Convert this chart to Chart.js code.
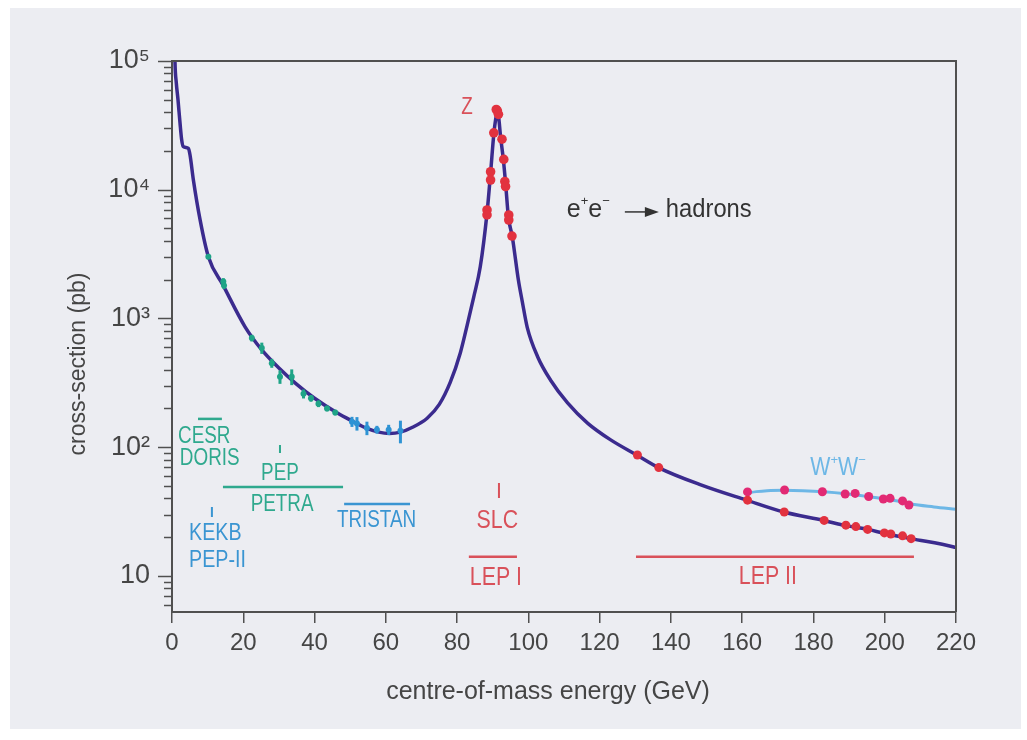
<!DOCTYPE html>
<html>
<head>
<meta charset="utf-8">
<script src="https://cdn.jsdelivr.net/npm/chart.js@4.4.0/dist/chart.umd.min.js"></script>
<style>
html,body{margin:0;padding:0;background:#fff;}
canvas{display:block;}
</style>
</head>
<body>
<canvas id="c" width="1027" height="740"></canvas>
<script>
// ---------- data ----------
const xTicks = [0, 20, 40, 60, 80, 100, 120, 140, 160, 180, 200, 220];
const yTickLabels = {10: '10', 100: '10²', 1000: '10³', 10000: '10⁴', 100000: '10⁵'};
const xTitle = 'centre-of-mass energy (GeV)';
const yTitle = 'cross-section (pb)';

// e+e- -> hadrons cross-section curve (GeV, pb)
const hadronE = [0.75, 0.84, 1.2, 1.69, 2.25, 2.72, 3.18, 4.6, 5.06, 6.0, 7.9, 10.2, 14.4, 20.5, 25.2, 30.3, 34.6, 40, 46.3, 50.5, 54.7, 58, 61, 64.1, 67.5, 71.6, 75, 78.1, 80.9, 82.8, 84.7, 86.5, 88.4, 89.4, 90.3, 90.8, 91.2, 91.6, 92.2, 93.0, 93.6, 94.4, 95.5, 97.2, 98.3, 99.7, 102.6, 106.2, 111.0, 116.6, 123.1, 130.4, 136.5, 148.4, 161.0, 171.7, 182.9, 189.1, 195.3, 199.7, 207.4, 219.4, 220];
const hadronS = [140000, 98000, 68000, 49800, 33000, 24300, 21600, 20950, 18600, 11900, 5800, 3020, 1800, 862, 571, 405, 315, 240, 185, 160, 140, 131, 128, 131, 143, 168, 215, 320, 540, 880, 1480, 2520, 6600, 13500, 27000, 35000, 39000, 37500, 25800, 17000, 11300, 6140, 4300, 1990, 1350, 850, 505, 333, 221, 154, 114, 87, 69.5, 51, 39, 31.4, 27, 24.6, 23, 21.5, 19.5, 16.8, 16.6];

// W+W- curve
const wwCurveE = [161.3, 164, 167, 171.7, 177, 182.9, 189.1, 195.3, 199.7, 204, 207.4, 213.8, 220];
const wwCurveS = [44, 45.2, 46, 46.3, 46, 45.1, 43.5, 41.4, 39.8, 38, 36.2, 34.4, 33];

// Z-pole measurements (red)
const zE = [88.4, 88.4, 89.4, 89.4, 90.3, 91.0, 91.3, 91.6, 92.6, 93.1, 93.4, 93.6, 94.5, 94.5, 95.4];
const zS = [6970, 6370, 13800, 11900, 27700, 42000, 41000, 38500, 24700, 17200, 11600, 10600, 6370, 5820, 4370];

// LEP II hadronic measurements (red)
const lep2E = [130.6, 136.6, 161.5, 171.8, 183.0, 189.1, 191.9, 195.2, 199.9, 201.7, 205.0, 207.4];
const lep2S = [87, 69.5, 38.8, 31.4, 27.0, 24.8, 24.2, 23.0, 21.6, 21.2, 20.5, 19.5];

// W+W- measurements (magenta)
const wwE = [161.5, 171.9, 182.5, 188.9, 191.7, 195.5, 199.6, 201.5, 205.0, 206.8];
const wwS = [45, 46.5, 45.1, 43.3, 43.8, 41.4, 39.6, 40.1, 38.3, 35.6];

// PEP / PETRA / CESR / DORIS measurements (green), relative errors
const greenE = [10.2, 14.4, 14.6, 22.4, 25.2, 28.0, 30.3, 33.6, 36.9, 39.0, 41.1, 43.5, 45.8];
const greenS = [3020, 1940, 1800, 705, 590, 450, 353, 353, 260, 240, 218, 200, 186];
const greenErr = [0.04, 0.06, 0.06, 0.06, 0.10, 0.08, 0.12, 0.14, 0.08, 0.06, 0.06, 0.05, 0.05];

// TRISTAN measurements (blue), relative errors
const blueE = [50.5, 51.9, 54.7, 57.5, 60.8, 64.1];
const blueS = [158, 153, 141, 137, 137, 134];
const blueErr = [0.09, 0.12, 0.12, 0.07, 0.09, 0.20];

// accelerator energy ranges (GeV) and the level they are drawn at (pb)
const cesrRange = [7.3, 14.0], cesrLevel = 166;
const petraRange = [14.3, 48.0], petraLevel = 49;
const tristanRange = [48.3, 66.8], tristanLevel = 36.2;
const lep1Range = [83.3, 96.8], lep1Level = 14.1;
const lep2Range = [130.2, 208.2], lep2Level = 14.1;
const pepTickE = 30.3, pepTickS = [104, 90];
const kekbTickE = 11.2, kekbTickS = [34.4, 28.7];
const slcTickE = 91.75, slcTickS = [52.7, 40.4];

// ---------- styling ----------
const REG = "'Liberation Sans', Arial, sans-serif";
const AXIS = '#505050';
const TEXT = '#454545';
const NAVY = '#3b2b8e';
const RED = '#e2323f';
const MAGENTA = '#e22a74';
const GREEN = '#1fa487';
const BLUE = '#2e93d4';
const LIGHTBLUE = '#6db7e6';
const LABEL_GREEN = '#2fa98e';
const LABEL_BLUE = '#3a95d2';
const LABEL_RED = '#d9515a';
const NARROW = 0.82;

const pts = (xs, ys) => xs.map((x, i) => ({x: x, y: ys[i]}));
const seg = (r, lvl) => [{x: r[0], y: lvl}, {x: r[1], y: lvl}];
const vseg = (e, s) => [{x: e, y: s[0]}, {x: e, y: s[1]}];

const annotations = [
  {text: 'Z', E: 82.8, S: 43100, color: LABEL_RED, size: 23, align: 'center'},
  {text: 'CESR', E: 1.7, S: 120, color: LABEL_GREEN, size: 23, align: 'left'},
  {text: 'DORIS', E: 2.2, S: 81, color: LABEL_GREEN, size: 23, align: 'left'},
  {text: 'PEP', E: 30.3, S: 62, color: LABEL_GREEN, size: 23, align: 'center'},
  {text: 'PETRA', E: 30.9, S: 35.6, color: LABEL_GREEN, size: 23, align: 'center'},
  {text: 'TRISTAN', E: 57.4, S: 26.7, color: LABEL_BLUE, size: 23, align: 'center'},
  {text: 'KEKB', E: 4.8, S: 21.6, color: LABEL_BLUE, size: 24, align: 'left'},
  {text: 'PEP-II', E: 4.8, S: 13.3, color: LABEL_BLUE, size: 24, align: 'left'},
  {text: 'SLC', E: 91.3, S: 26.7, color: LABEL_RED, size: 26, align: 'center'},
  {text: 'LEP I', E: 90.9, S: 9.6, color: LABEL_RED, size: 26, align: 'center'},
  {text: 'LEP II', E: 167.2, S: 9.8, color: LABEL_RED, size: 26, align: 'center'}
];

function drawParts(ctx, parts, x, y, align) {
  // parts: [text, font, dy, horizontal scale]
  let w = 0;
  parts.forEach(p => { ctx.font = p[1]; w += ctx.measureText(p[0]).width * p[3]; });
  let cx = align === 'center' ? x - w / 2 : x;
  ctx.textAlign = 'left';
  parts.forEach(p => {
    ctx.font = p[1];
    ctx.save();
    ctx.translate(cx, y + p[2]);
    ctx.scale(p[3], 1);
    ctx.fillText(p[0], 0, 0);
    ctx.restore();
    cx += ctx.measureText(p[0]).width * p[3];
  });
  return cx;
}

const deco = {
  id: 'deco',
  beforeDraw(chart) {
    const ctx = chart.ctx;
    ctx.save();
    ctx.fillStyle = '#ffffff';
    ctx.fillRect(0, 0, chart.width, chart.height);
    ctx.fillStyle = '#ecedf2';
    ctx.fillRect(10, 8, 1011, 721);
    ctx.restore();
  },
  afterDatasetsDraw(chart) {
    const ctx = chart.ctx;
    const xs = chart.scales.x, ys = chart.scales.y;
    ctx.save();
    ctx.lineCap = 'butt';
    const bars = (E, S, R, color) => {
      ctx.strokeStyle = color;
      ctx.lineWidth = 3;
      E.forEach((e, i) => {
        const px = xs.getPixelForValue(e);
        ctx.beginPath();
        ctx.moveTo(px, ys.getPixelForValue(S[i] * (1 + R[i])));
        ctx.lineTo(px, ys.getPixelForValue(S[i] * (1 - R[i])));
        ctx.stroke();
      });
    };
    bars(greenE, greenS, greenErr, GREEN);
    bars(blueE, blueS, blueErr, BLUE);
    ctx.restore();
  },
  afterDraw(chart) {
    const ctx = chart.ctx;
    const xs = chart.scales.x, ys = chart.scales.y;
    const a = chart.chartArea;
    ctx.save();
    // top and right frame
    ctx.strokeStyle = AXIS;
    ctx.lineWidth = 2;
    ctx.beginPath();
    ctx.moveTo(a.left, a.top);
    ctx.lineTo(a.right, a.top);
    ctx.lineTo(a.right, a.bottom);
    ctx.stroke();
    // log ticks on y axis
    ctx.lineWidth = 1.5;
    for (let d = 0; d <= 5; d++) {
      for (let m = 1; m <= 9; m++) {
        const v = m * Math.pow(10, d);
        if (v < ys.min || v > ys.max) continue;
        const py = Math.round(ys.getPixelForValue(v)) + 0.5;
        const len = m === 1 ? 14 : 8;
        ctx.beginPath();
        ctx.moveTo(a.left - len, py);
        ctx.lineTo(a.left, py);
        ctx.stroke();
      }
    }
    // axis titles
    ctx.fillStyle = TEXT;
    ctx.textBaseline = 'middle';
    ctx.textAlign = 'center';
    ctx.font = '25px ' + REG;
    ctx.fillText(xTitle, 548, 692);
    ctx.save();
    ctx.translate(79, 364);
    ctx.rotate(-Math.PI / 2);
    ctx.font = '23px ' + REG;
    ctx.fillText(yTitle, 0, 0);
    ctx.restore();
    // annotation labels (condensed)
    annotations.forEach(t => {
      ctx.fillStyle = t.color;
      ctx.font = t.size + 'px ' + REG;
      ctx.textAlign = t.align;
      ctx.save();
      ctx.translate(xs.getPixelForValue(t.E), ys.getPixelForValue(t.S));
      ctx.scale(NARROW, 1);
      ctx.fillText(t.text, 0, 0);
      ctx.restore();
    });
    // W+W- label
    ctx.fillStyle = LIGHTBLUE;
    drawParts(ctx, [['W', '26px ' + REG, 0, NARROW], ['+', '13px ' + REG, -8, 1], ['W', '26px ' + REG, 0, NARROW], ['\u2212', '13px ' + REG, -8, 1]],
      xs.getPixelForValue(186.9), ys.getPixelForValue(69), 'center');
    // e+e- -> hadrons
    ctx.fillStyle = '#333333';
    const ex = xs.getPixelForValue(110.8), ey = ys.getPixelForValue(6970);
    drawParts(ctx, [['e', '25px ' + REG, 0, 1], ['+', '13px ' + REG, -9, 1], ['e', '25px ' + REG, 0, 1], ['\u2212', '13px ' + REG, -9, 1]], ex, ey, 'left');
    ctx.strokeStyle = '#333333';
    ctx.lineWidth = 1.5;
    ctx.beginPath();
    ctx.moveTo(ex + 58, ey + 2);
    ctx.lineTo(ex + 80, ey + 2);
    ctx.stroke();
    ctx.beginPath();
    ctx.moveTo(ex + 92, ey + 2);
    ctx.lineTo(ex + 78, ey - 3);
    ctx.lineTo(ex + 78, ey + 7);
    ctx.closePath();
    ctx.fill();
    ctx.font = '25px ' + REG;
    ctx.textAlign = 'left';
    ctx.save();
    ctx.translate(ex + 99, ey);
    ctx.scale(0.95, 1);
    ctx.fillText('hadrons', 0, 0);
    ctx.restore();
    ctx.restore();
  }
};

const lineDs = (data, color, width) => ({
  data: data, showLine: true, pointRadius: 0, borderColor: color, borderWidth: width,
  backgroundColor: color, tension: 0
});

new Chart(document.getElementById('c'), {
  type: 'scatter',
  data: {
    datasets: [
      {data: pts(zE, zS), pointRadius: 4.8, pointBackgroundColor: RED, pointBorderWidth: 0, backgroundColor: RED},
      {data: pts(lep2E, lep2S), pointRadius: 4.5, pointBackgroundColor: RED, pointBorderWidth: 0, backgroundColor: RED},
      {data: pts(wwE, wwS), pointRadius: 4.5, pointBackgroundColor: MAGENTA, pointBorderWidth: 0, backgroundColor: MAGENTA},
      {data: pts(greenE, greenS), pointRadius: 3, pointBackgroundColor: GREEN, pointBorderWidth: 0, backgroundColor: GREEN},
      {data: pts(blueE, blueS), pointRadius: 3, pointBackgroundColor: BLUE, pointBorderWidth: 0, backgroundColor: BLUE},
      lineDs(seg(cesrRange, cesrLevel), LABEL_GREEN, 2.5),
      lineDs(seg(petraRange, petraLevel), LABEL_GREEN, 2.5),
      lineDs(seg(tristanRange, tristanLevel), LABEL_BLUE, 2.5),
      lineDs(seg(lep1Range, lep1Level), LABEL_RED, 2.5),
      lineDs(seg(lep2Range, lep2Level), LABEL_RED, 2.5),
      lineDs(vseg(pepTickE, pepTickS), LABEL_GREEN, 2),
      lineDs(vseg(kekbTickE, kekbTickS), LABEL_BLUE, 2),
      lineDs(vseg(slcTickE, slcTickS), LABEL_RED, 2),
      Object.assign(lineDs(pts(wwCurveE, wwCurveS), LIGHTBLUE, 3), {cubicInterpolationMode: 'monotone'}),
      Object.assign(lineDs(pts(hadronE, hadronS), NAVY, 3.5), {cubicInterpolationMode: 'monotone'})
    ]
  },
  options: {
    responsive: false,
    animation: false,
    devicePixelRatio: 1,
    layout: {padding: {left: 55, right: 71, top: 61, bottom: 23}},
    plugins: {legend: {display: false}, tooltip: {enabled: false}},
    scales: {
      x: {
        type: 'linear', min: 0, max: 220,
        afterBuildTicks: s => { s.ticks = xTicks.map(v => ({value: v})); },
        afterFit: s => { s.height = 105; },
        ticks: {color: TEXT, font: {family: REG, size: 24}, padding: 6, maxRotation: 0, autoSkip: false},
        grid: {drawOnChartArea: false, color: AXIS, tickLength: 11, lineWidth: 1.5},
        border: {color: AXIS, width: 2},
        title: {display: false}
      },
      y: {
        type: 'logarithmic', min: 5.25, max: 100000,
        afterBuildTicks: s => { s.ticks = Object.keys(yTickLabels).map(v => ({value: Number(v)})); },
        afterFit: s => { s.width = 117; },
        ticks: {color: TEXT, font: {family: REG, size: 27}, padding: 22, autoSkip: false,
          callback: v => yTickLabels[v] || ''},
        grid: {drawOnChartArea: false, drawTicks: false},
        border: {color: AXIS, width: 2},
        title: {display: false}
      }
    }
  },
  plugins: [deco]
});
</script>
</body>
</html>
